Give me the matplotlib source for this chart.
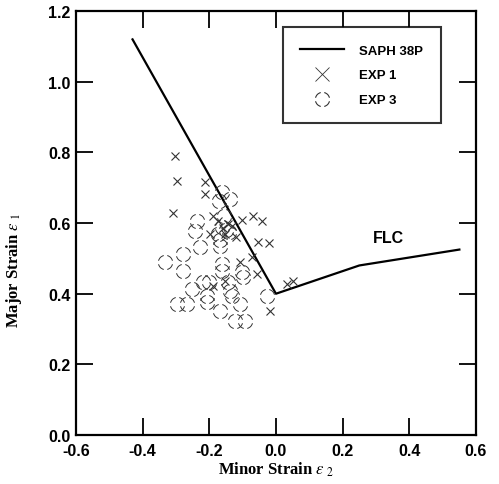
import numpy as np
import matplotlib
matplotlib.use("Agg")
import matplotlib.pyplot as plt
from matplotlib.path import Path
from matplotlib.lines import Line2D

plt.rcParams['mathtext.fontset'] = 'stix'

# forming limit curve SAPH 38P
flc_x = [-0.43, 0.0, 0.25, 0.55]
flc_y = [1.12, 0.40, 0.48, 0.525]

# EXP 1 (crosses)
exp1_x = [-0.303, -0.297, -0.213, -0.213, -0.309, -0.189, -0.102, -0.069, -0.042,
          -0.054, -0.021, -0.198, -0.132, -0.108, -0.072, -0.057, -0.153, -0.189,
          0.033, 0.051, -0.018, -0.153, -0.144, -0.175, -0.160, -0.120]
exp1_y = [0.790, 0.720, 0.717, 0.683, 0.629, 0.620, 0.609, 0.620, 0.606,
          0.547, 0.544, 0.569, 0.592, 0.490, 0.504, 0.456, 0.436, 0.422,
          0.428, 0.436, 0.351, 0.569, 0.598, 0.606, 0.585, 0.560]

# EXP 3 (dashed circles)
exp3_x = [-0.162, -0.170, -0.138, -0.237, -0.243, -0.162, -0.150, -0.175, -0.140,
          -0.168, -0.228, -0.168, -0.280, -0.279, -0.162, -0.162, -0.102, -0.100,
          -0.219, -0.200, -0.144, -0.252, -0.138, -0.132, -0.207, -0.027, -0.297,
          -0.267, -0.207, -0.168, -0.108, -0.123, -0.093, -0.333, -0.155]
exp3_y = [0.688, 0.662, 0.668, 0.606, 0.578, 0.589, 0.580, 0.570, 0.575,
          0.552, 0.533, 0.535, 0.512, 0.465, 0.484, 0.465, 0.462, 0.448,
          0.433, 0.433, 0.433, 0.414, 0.408, 0.394, 0.394, 0.394, 0.371,
          0.371, 0.377, 0.351, 0.371, 0.323, 0.323, 0.490, 0.620]

# dashed circle marker made of four arcs
arcs = [Path.arc(a + 14, a + 76) for a in (0, 90, 180, 270)]
dash_circle = Path.make_compound_path(*arcs)

fig = plt.figure(figsize=(4.99, 4.85), dpi=100)
ax = fig.add_axes([0.152, 0.101, 0.802, 0.874])

ax.plot(flc_x, flc_y, color='black', lw=1.6)
ax.plot(exp1_x, exp1_y, ls='none', marker='x', ms=5.5, mew=0.8, color='#333333')
ax.plot(exp3_x, exp3_y, ls='none', marker=dash_circle, ms=10, mew=0.7,
        mfc='none', mec='#333333')

ax.text(0.29, 0.545, 'FLC', fontsize=11.5, fontweight='bold', family='Liberation Sans')

ax.set_xlim(-0.6, 0.6)
ax.set_ylim(0.0, 1.2)
ax.set_xticks(np.arange(-0.6, 0.61, 0.2))
ax.set_yticks(np.arange(0.0, 1.21, 0.2))
ax.xaxis.set_major_formatter(plt.FormatStrFormatter('%.1f'))
ax.yaxis.set_major_formatter(plt.FormatStrFormatter('%.1f'))
ax.tick_params(direction='in', length=12, width=1.3, top=True, right=True)
ax.tick_params(axis='x', pad=6)
ax.tick_params(axis='y', pad=4)
for lab in ax.get_xticklabels() + ax.get_yticklabels():
    lab.set_fontfamily('Liberation Sans')
    lab.set_fontweight('bold')
    lab.set_fontsize(11.5)
for s in ax.spines.values():
    s.set_linewidth(1.6)

ax.set_xlabel(r'Minor Strain $\varepsilon_{\ 2}$', fontsize=12, fontweight='bold',
              family='Liberation Serif', labelpad=1)
ax.set_ylabel(r'Major Strain $\varepsilon_{\ 1}$', fontsize=12, fontweight='bold',
              family='Liberation Serif', labelpad=12)
ax.yaxis.set_label_coords(-0.13, 0.39)

handles = [
    Line2D([], [], color='black', lw=1.6),
    Line2D([], [], ls='none', marker='x', ms=10, mew=0.6, color='#333333'),
    Line2D([], [], ls='none', marker=dash_circle, ms=10, mew=0.8, mfc='none', mec='#333333'),
]
leg = ax.legend(handles, ['SAPH 38P', 'EXP 1', 'EXP 3'], loc='upper left',
                bbox_to_anchor=(0.5175, 0.962), borderaxespad=0, frameon=True,
                fancybox=False, edgecolor='black', borderpad=1.3, labelspacing=0.95,
                handlelength=3.3, handletextpad=1.2,
                prop={'family': 'Liberation Sans', 'weight': 'bold', 'size': 9.5})
leg.get_frame().set_linewidth(1.5)

fig.savefig('out.png', dpi=100)
